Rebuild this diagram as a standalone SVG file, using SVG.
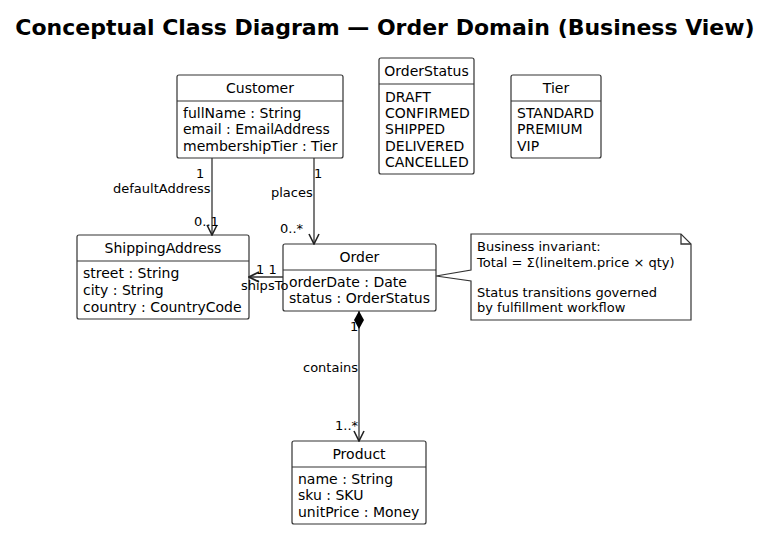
<svg xmlns="http://www.w3.org/2000/svg" width="771" height="539" viewBox="0 0 771 539">
<defs>
<style>
text{font-family:"DejaVu Sans",Verdana,sans-serif;font-size:14px;fill:#000}
.title{font-size:22px;font-weight:bold}
.lbl{font-size:13px}
.box{fill:#fff;stroke:#333;stroke-width:1.2}
.div{stroke:#333;stroke-width:1.2}
.edge{fill:none;stroke:#333;stroke-width:1.3}
.c{text-anchor:middle}
</style>
<marker id="open" viewBox="0 0 12 12" refX="11" refY="6" markerWidth="12" markerHeight="12" markerUnits="userSpaceOnUse" orient="auto">
<path d="M1,1 L11,6 L1,11" fill="none" stroke="#222" stroke-width="1.6"/>
</marker>
<marker id="diamond" viewBox="0 0 18 10" refX="0" refY="5" markerWidth="18" markerHeight="10" markerUnits="userSpaceOnUse" orient="auto">
<path d="M0,5 L9,0 L18,5 L9,10 Z" fill="#000"/>
</marker>
</defs>
<rect width="771" height="539" fill="#fff"/>
<text class="title c" x="385" y="35">Conceptual Class Diagram — Order Domain (Business View)</text>

<g id="Customer">
<rect class="box" x="177" y="75" width="166" height="83" rx="2"/>
<line class="div" x1="177" y1="101" x2="343" y2="101"/>
<text class="c" x="260" y="93">Customer</text>
<text x="183" y="118">fullName : String</text>
<text x="183" y="134">email : EmailAddress</text>
<text x="183" y="151">membershipTier : Tier</text>
</g>

<g id="OrderStatus">
<rect class="box" x="379" y="58" width="95" height="116" rx="2"/>
<line class="div" x1="379" y1="84" x2="474" y2="84"/>
<text class="c" x="426.5" y="76">OrderStatus</text>
<text x="385" y="102">DRAFT</text>
<text x="385" y="118">CONFIRMED</text>
<text x="385" y="134">SHIPPED</text>
<text x="385" y="151">DELIVERED</text>
<text x="385" y="167">CANCELLED</text>
</g>

<g id="Tier">
<rect class="box" x="511" y="75" width="90" height="83" rx="2"/>
<line class="div" x1="511" y1="101" x2="601" y2="101"/>
<text class="c" x="556" y="93">Tier</text>
<text x="517" y="118">STANDARD</text>
<text x="517" y="134">PREMIUM</text>
<text x="517" y="151">VIP</text>
</g>

<g id="ShippingAddress">
<rect class="box" x="77" y="235" width="172" height="84" rx="2"/>
<line class="div" x1="77" y1="261" x2="249" y2="261"/>
<text class="c" x="163" y="253">ShippingAddress</text>
<text x="83" y="278">street : String</text>
<text x="83" y="295">city : String</text>
<text x="83" y="312">country : CountryCode</text>
</g>

<g id="Order">
<rect class="box" x="283" y="244" width="153" height="67" rx="2"/>
<line class="div" x1="283" y1="270" x2="436" y2="270"/>
<text class="c" x="359.5" y="262">Order</text>
<text x="289" y="287">orderDate : Date</text>
<text x="289" y="303">status : OrderStatus</text>
</g>

<g id="Note">
<path class="box" d="M471,234 H681 L691,244 V320 H471 V281 L436,276 L471,270 Z"/>
<path class="edge" d="M681,234 V244 H691"/>
<text class="lbl" x="477" y="251">Business invariant:</text>
<text class="lbl" x="477" y="267">Total = Σ(lineItem.price × qty)</text>
<text class="lbl" x="477" y="297">Status transitions governed</text>
<text class="lbl" x="477" y="312">by fulfillment workflow</text>
</g>

<g id="Product">
<rect class="box" x="292" y="441" width="134" height="83" rx="2"/>
<line class="div" x1="292" y1="467" x2="426" y2="467"/>
<text class="c" x="359" y="459">Product</text>
<text x="298" y="484">name : String</text>
<text x="298" y="500">sku : SKU</text>
<text x="298" y="517">unitPrice : Money</text>
</g>

<g id="connectors">
<path class="edge" d="M212,158 V235" marker-end="url(#open)"/>
<path class="edge" d="M314,158 V244" marker-end="url(#open)"/>
<path class="edge" d="M283,277 H249" marker-end="url(#open)"/>
<path class="edge" d="M359,311 V441" marker-start="url(#diamond)" marker-end="url(#open)"/>
<text class="lbl" x="196" y="178">1</text>
<text class="lbl" x="113" y="193">defaultAddress</text>
<text class="lbl" x="194" y="226">0..1</text>
<text class="lbl" x="314" y="178">1</text>
<text class="lbl" x="271" y="197">places</text>
<text class="lbl" x="280" y="233">0..*</text>
<text class="lbl" x="256" y="274">1 1</text>
<text class="lbl" x="241" y="290">shipsTo</text>
<text class="lbl" x="350" y="331">1</text>
<text class="lbl" x="303" y="372">contains</text>
<text class="lbl" x="335" y="430">1..*</text>
</g>
</svg>
